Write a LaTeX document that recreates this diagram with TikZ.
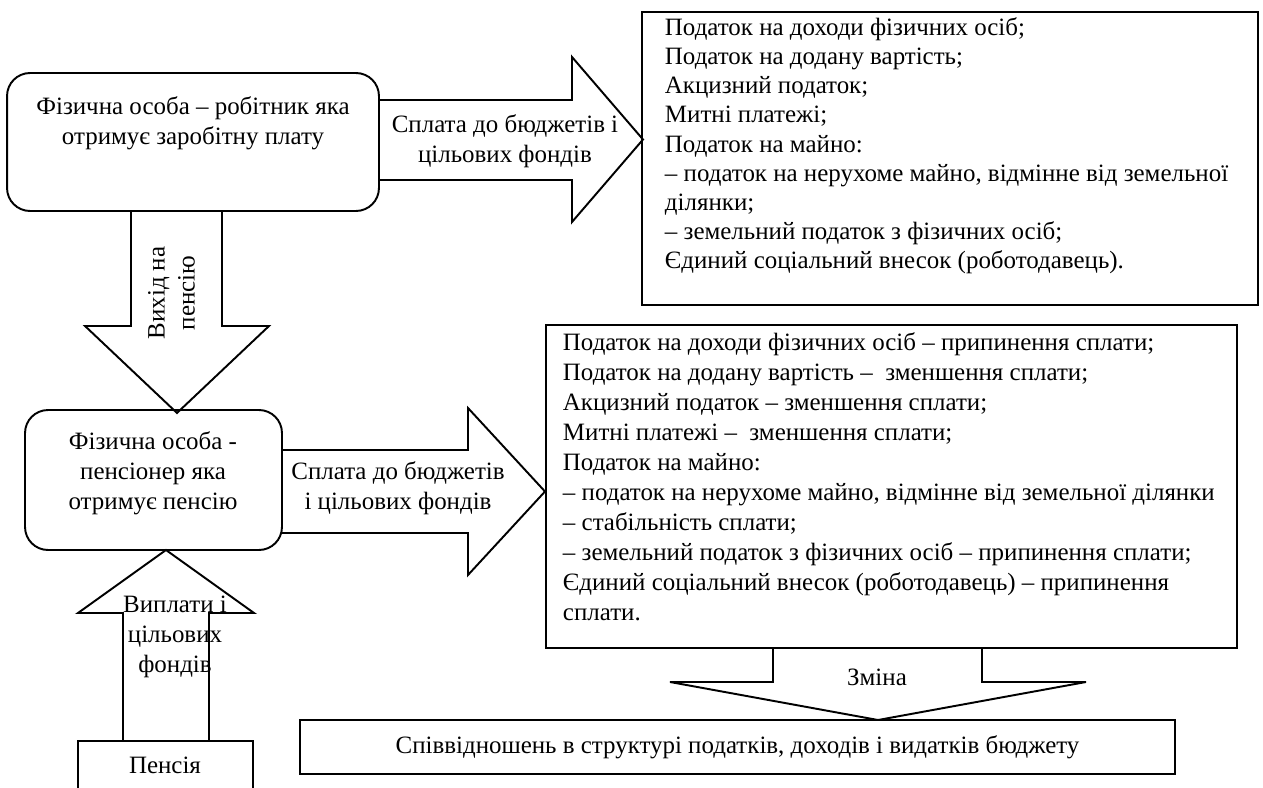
\documentclass[tikz,border=0pt]{standalone}
\usepackage{fontspec}
\setmainfont{Liberation Serif}
\begin{document}
\begin{tikzpicture}[x=0.02cm,y=-0.02cm,
  line width=1.1pt, line join=miter,
  box/.style={draw, inner sep=0pt},
  rbox/.style={draw, inner sep=0pt, rounded corners=0.46cm},
  txt/.style={inner sep=0pt, font=\fontsize{14.2}{17.07}\selectfont},
  listtxt/.style={inner sep=0pt, align=left, anchor=north west, font=\fontsize{14.2}{16.6}\selectfont},
  blockarrow/.style={draw, line width=1.1pt}]
\useasboundingbox (0,0) rectangle (1263,787);

% boxes
\node[rbox, minimum width=7.44cm, minimum height=2.76cm] (worker) at (193,142) {};
\node[box, minimum width=12.32cm, minimum height=5.86cm] (taxes1) at (950,158.5) {};
\node[rbox, minimum width=5.14cm, minimum height=2.80cm] (pensioner) at (153.5,480) {};
\node[box, minimum width=13.82cm, minimum height=6.46cm] (taxes2) at (891.5,486.5) {};
\node[box, txt, minimum width=17.5cm, minimum height=1.08cm] (result) at (737.5,747)
  {Співвідношень в структурі податків, доходів і видатків бюджету};

% pension box (cut by the page edge)
\coordinate (pbl) at (78,790);
\coordinate (pbr) at (253,790);
\draw (pbl) -- (78,741) -- (253,741) -- (pbr);
\node[txt] (pension) at (165,765) {Пенсія};

% block arrows
\draw[blockarrow] (379,100) -- (572,100) -- (572,57) -- (643,139.5) -- (572,222) -- (572,180) -- (379,180);
\draw[blockarrow] (131,211) -- (131,326) -- (85,326) -- (177,413) -- (269,326) -- (222,326) -- (222,211);
\draw[blockarrow] (282,450) -- (468,450) -- (468,408) -- (545,491.5) -- (468,575) -- (468,533) -- (282,533);
\draw[blockarrow] (123,741) -- (123,613) -- (78,613) -- (166,550) -- (254,613) -- (209,613) -- (209,741);
\draw[blockarrow] (773,648) -- (773,682) -- (670,682) -- (878,720) -- (1086,682) -- (982,682) -- (982,648);

% texts
\node[txt, align=center, anchor=north] (tworker) at (193,93)
  {\strut Фізична особа – робітник яка\\отримує заробітну плату};
\node[txt, align=center, anchor=north] (tpay1) at (505,111)
  {\strut Сплата до бюджетів і\\цільових фондів};
\node[listtxt] (ttaxes1) at (664,14)
  {\strut Податок на доходи фізичних осіб;\\
   Податок на додану вартість;\\
   Акцизний податок;\\
   Митні платежі;\\
   Податок на майно:\\
   – податок на нерухоме майно, відмінне від земельної\\
   ділянки;\\
   – земельний податок з фізичних осіб;\\
   Єдиний соціальний внесок (роботодавець).};
\node[txt, align=center, rotate=90] (tretire) at (171.5,293) {Вихід на\\пенсію};
\node[txt, align=center, anchor=north] (tpensioner) at (153,428)
  {\strut Фізична особа -\\пенсіонер яка\\отримує пенсію};
\node[txt, align=center, anchor=north] (tpay2) at (398,458)
  {\strut Сплата до бюджетів\\і цільових фондів};
\node[listtxt, font=\fontsize{14.2}{17.07}\selectfont] (ttaxes2) at (562,329)
  {\strut Податок на доходи фізичних осіб – припинення сплати;\\
   Податок на додану вартість –\ \ зменшення сплати;\\
   Акцизний податок – зменшення сплати;\\
   Митні платежі –\ \ зменшення сплати;\\
   Податок на майно:\\
   – податок на нерухоме майно, відмінне від земельної ділянки\\
   – стабільність сплати;\\
   – земельний податок з фізичних осіб – припинення сплати;\\
   Єдиний соціальний внесок (роботодавець) – припинення\\
   сплати.};
\node[txt, align=center, anchor=north] (tpayout) at (175,591)
  {\strut Виплати і\\цільових\\фондів};
\node[txt] (tchange) at (877,677) {Зміна};
\end{tikzpicture}
\end{document}
